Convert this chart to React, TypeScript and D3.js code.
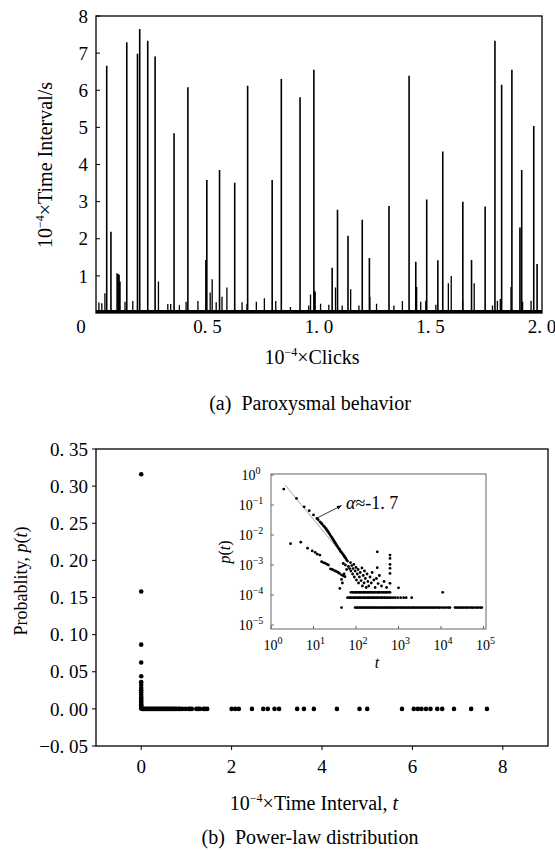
import React from "react";
import * as d3 from "d3";

// ---------- (a) Paroxysmal behavior ----------
const spikeX = [0.048, 0.067, 0.138, 0.186, 0.196, 0.232, 0.265, 0.35, 0.412, 0.497, 0.554, 0.622, 0.68, 0.79, 0.831, 0.915, 0.977, 1.059, 1.083, 1.13, 1.194, 1.226, 1.314, 1.404, 1.434, 1.483, 1.533, 1.555, 1.645, 1.684, 1.745, 1.789, 1.819, 1.865, 1.901, 1.909, 1.963, 1.978];
const spikeH = [6.66, 2.19, 7.29, 6.98, 7.65, 7.33, 6.91, 4.84, 6.08, 3.58, 3.85, 3.51, 6.12, 3.58, 6.3, 5.81, 6.55, 1.22, 2.78, 2.08, 2.51, 1.48, 2.88, 6.39, 1.38, 3.06, 1.42, 4.35, 3.0, 1.43, 2.87, 7.33, 6.15, 6.55, 2.3, 3.85, 5.04, 1.32];
const minorX = [0.013, 0.026, 0.04, 0.094, 0.1, 0.104, 0.108, 0.13, 0.165, 0.28, 0.322, 0.335, 0.374, 0.404, 0.457, 0.492, 0.512, 0.521, 0.539, 0.565, 0.587, 0.655, 0.677, 0.719, 0.755, 0.806, 0.872, 0.954, 0.962, 0.98, 0.983, 1.007, 1.044, 1.074, 1.104, 1.142, 1.179, 1.228, 1.258, 1.336, 1.374, 1.438, 1.456, 1.479, 1.524, 1.58, 1.593, 1.644, 1.696, 1.778, 1.8, 1.813, 1.861, 1.913, 1.951];
const minorH = [0.28, 0.26, 0.53, 1.07, 1.05, 1.03, 0.85, 0.3, 0.32, 0.85, 0.24, 0.24, 0.21, 0.3, 0.32, 1.43, 0.55, 0.91, 0.29, 0.44, 0.69, 0.29, 0.24, 0.3, 0.4, 0.32, 0.16, 0.2, 0.5, 0.6, 0.57, 0.25, 0.22, 0.69, 0.2, 0.64, 0.2, 0.44, 0.25, 0.2, 0.32, 0.7, 0.3, 0.33, 0.22, 0.8, 1.0, 0.35, 0.8, 0.2, 0.33, 0.38, 0.7, 0.3, 0.33];
const topYTicks = [1, 2, 3, 4, 5, 6, 7, 8];
const topXTicks = [0, 0.5, 1, 1.5, 2];
const topXTickLabels = ["0", "0. 5", "1. 0", "1. 5", "2. 0"];

// ---------- (b) Power-law distribution ----------
const zeroColumnP = [0.316, 0.158, 0.0865, 0.0625, 0.044, 0.036, 0.032, 0.028, 0.025, 0.022, 0.019, 0.016, 0.014, 0.012, 0.01, 0.008, 0.006, 0.0045, 0.003, 0.0015, 0.0005];
const zeroRowT = [0.02, 0.05, 0.08, 0.11, 0.14, 0.17, 0.2, 0.23, 0.26, 0.29, 0.32, 0.35, 0.38, 0.41, 0.44, 0.47, 0.5, 0.53, 0.56, 0.59, 0.62, 0.65, 0.69, 0.72, 0.75, 0.79, 0.83, 0.86, 0.91, 0.98, 1.05, 1.08, 1.12, 1.22, 1.26, 1.3, 1.38, 1.42, 1.46, 2.0, 2.08, 2.16, 2.45, 2.7, 2.8, 2.95, 3.05, 3.45, 3.6, 3.82, 4.33, 4.83, 5.0, 5.77, 6.03, 6.12, 6.2, 6.3, 6.4, 6.55, 6.66, 6.92, 7.3, 7.65];
const bottomYTicks = [-0.05, 0, 0.05, 0.1, 0.15, 0.2, 0.25, 0.3, 0.35];
const bottomYTickLabels = ["\u22120. 05", "0. 00", "0. 05", "0. 10", "0. 15", "0. 20", "0. 25", "0. 30", "0. 35"];
const bottomXTicks = [0, 2, 4, 6, 8];

// inset (log10 values)
const insetLogT = [
  0.30, 0.60, 0.78, 0.90, 1.00, 1.08, 1.11, 1.15, 1.18, 1.20, 1.23, 1.26, 1.28, 1.30, 1.32, 1.34, 1.36, 1.38, 1.40, 1.42, 1.44, 1.46, 1.48, 1.50, 1.52, 1.54, 1.56, 1.58, 1.60, 1.62, 1.64, 1.66, 1.68, 1.70, 1.72, 1.74, 1.76, 1.78, 1.80,
  1.82, 1.85, 1.87, 1.88, 1.90, 1.92, 1.93, 1.95, 1.96, 1.98, 2.00, 2.01, 2.03, 2.05, 2.06, 2.08, 2.10, 2.12, 2.14, 2.15, 2.17, 2.19, 2.20, 2.22, 2.24, 2.26, 2.28, 2.30, 2.33, 2.36, 2.38, 2.42, 2.45, 2.48, 2.52, 2.55, 2.60, 2.66, 2.72, 1.70, 1.75, 1.72, 1.78, 1.68, 1.62, 1.66,
  0.46, 0.70, 0.86, 0.97, 1.04, 1.09, 1.15, 1.19, 1.23, 1.27, 1.31, 1.35, 1.40, 1.44, 1.47, 1.51, 1.55, 1.58, 1.61, 1.66, 1.70, 1.74,
  2.50, 2.50, 2.80, 2.80, 2.80, 2.80, 2.80, 2.80, 3.00, 3.31, 4.04, 1.66
];
const insetLogP = [
  -0.47, -0.78, -1.06, -1.19, -1.33, -1.45, -1.49, -1.56, -1.60, -1.63, -1.69, -1.73, -1.77, -1.80, -1.85, -1.88, -1.93, -1.97, -2.02, -2.06, -2.10, -2.15, -2.19, -2.24, -2.28, -2.33, -2.37, -2.42, -2.46, -2.50, -2.55, -2.58, -2.62, -2.66, -2.70, -2.74, -2.78, -2.83, -2.87,
  -3.05, -3.12, -2.92, -3.20, -3.02, -3.30, -3.12, -2.98, -3.40, -3.20, -3.08, -3.50, -3.30, -3.15, -3.60, -3.40, -3.25, -3.52, -3.10, -3.70, -3.35, -3.60, -3.20, -3.45, -3.75, -3.30, -3.55, -3.70, -3.40, -3.60, -3.25, -3.50, -3.75, -3.45, -3.62, -3.35, -3.70, -3.55, -3.75, -2.95, -3.00, -3.30, -3.15, -3.60, -3.78, -3.48,
  -2.29, -2.24, -2.44, -2.53, -2.58, -2.64, -2.67, -2.89, -2.92, -2.94, -2.97, -3.00, -3.13, -3.15, -3.17, -3.20, -3.22, -3.25, -3.28, -3.33, -3.36, -3.39,
  -2.56, -3.09, -2.67, -2.78, -2.98, -3.11, -3.28, -3.61, -3.76, -4.09, -3.91, -4.42
];
const bandLogP = [-3.91, -4.09, -4.42];
const bandALogT = [1.88, 1.92, 1.95, 1.99, 2.01, 2.05, 2.08, 2.1, 2.14, 2.17, 2.2, 2.23, 2.27, 2.29, 2.33, 2.36, 2.4, 2.42, 2.46, 2.5, 2.53, 2.55, 2.59, 2.63, 2.66, 2.7, 2.73, 2.77, 2.8];
const bandBLogT = [1.8, 1.84, 1.87, 1.9, 1.94, 1.97, 2.0, 2.04, 2.07, 2.1, 2.13, 2.17, 2.2, 2.23, 2.27, 2.3, 2.33, 2.37, 2.4, 2.43, 2.47, 2.5, 2.53, 2.57, 2.6, 2.63, 2.67, 2.7, 2.74, 2.78, 2.82, 2.87, 2.92, 2.98, 3.05, 3.12, 3.18];
const bandCLogT = [1.98, 2.02, 2.05, 2.09, 2.12, 2.16, 2.19, 2.23, 2.26, 2.3, 2.33, 2.37, 2.4, 2.44, 2.47, 2.51, 2.54, 2.58, 2.61, 2.65, 2.68, 2.72, 2.75, 2.79, 2.82, 2.86, 2.89, 2.93, 2.96, 3.0, 3.04, 3.07, 3.11, 3.14, 3.18, 3.22, 3.25, 3.29, 3.33, 3.36, 3.4, 3.44, 3.48, 3.52, 3.56, 3.6, 3.64, 3.68, 3.72, 3.76, 3.8, 3.84, 3.88, 3.93, 3.97, 4.02, 4.07, 4.12, 4.17, 4.21, 4.33, 4.37, 4.41, 4.45, 4.49, 4.53, 4.57, 4.61, 4.65, 4.7, 4.74, 4.78, 4.83, 4.87, 4.92, 4.96];
const fitLogT = [0.33, 1.74];
const fitLogP = [-0.33, -2.75];
const insetXExp = [0, 1, 2, 3, 4, 5];
const insetYExp = [0, -1, -2, -3, -4, -5];

const FONT = "Liberation Serif, Times New Roman, serif";
const fs = { fontFamily: FONT };

export default function App() {
  const tx = d3.scaleLinear().domain([0, 2]).range([96, 542]);
  const ty = d3.scaleLinear().domain([0, 8]).range([313, 16]);
  const bx = d3.scaleLinear().domain([-1, 9]).range([96, 548]);
  const by = d3.scaleLinear().domain([-0.05, 0.35]).range([746, 449]);
  const ix = d3.scaleLog().domain([1, 1e5]).range([271, 483.5]);
  const iy = d3.scaleLog().domain([1e-5, 1]).range([625, 475]);

  const spikePath = d3.path();
  spikeX.forEach((x, i) => {
    spikePath.moveTo(tx(x), ty(0));
    spikePath.lineTo(tx(x), ty(spikeH[i]));
  });
  const minorPath = d3.path();
  minorX.forEach((x, i) => {
    minorPath.moveTo(tx(x), ty(0));
    minorPath.lineTo(tx(x), ty(minorH[i]));
  });

  const fitLine = d3.line<number>().x((d) => ix(10 ** d)).y((_, i) => iy(10 ** fitLogP[i]))(fitLogT) || "";

  const sup = (base: string, exp: string, size: number, ssize: number) => (
    <>
      <tspan fontSize={size}>{base}</tspan>
      <tspan fontSize={ssize} dy={-size * 0.42}>{exp}</tspan>
    </>
  );

  const arrowStart = [ix(10 ** 1.09), iy(10 ** -1.43)];
  const arrowEnd = [ix(10 ** 1.66), iy(10 ** -1.02)];
  const ang = Math.atan2(arrowEnd[1] - arrowStart[1], arrowEnd[0] - arrowStart[0]);
  const ah = 5;
  const head = [
    [arrowEnd[0], arrowEnd[1]],
    [arrowEnd[0] - ah * Math.cos(ang - 0.4), arrowEnd[1] - ah * Math.sin(ang - 0.4)],
    [arrowEnd[0] - ah * Math.cos(ang + 0.4), arrowEnd[1] - ah * Math.sin(ang + 0.4)],
  ];

  return (
    <svg width={555} height={850} style={{ position: "absolute", left: 0, top: 0, background: "#fff", fontFamily: FONT }}>
      <rect x={0} y={0} width={555} height={850} fill="#fff" />
      {/* ===== top chart ===== */}
      <rect x={tx(0)} y={ty(8)} width={tx(2) - tx(0)} height={ty(0) - ty(8)} fill="none" stroke="#000" strokeWidth={1.3} />
      {topYTicks.map((t) => (
        <g key={"ty" + t}>
          <line x1={tx(0)} x2={tx(0) + 4} y1={ty(t)} y2={ty(t)} stroke="#000" strokeWidth={1} />
          <text style={fs} x={88} y={ty(t)} dy="0.35em" textAnchor="end" fontSize={19}>{t}</text>
        </g>
      ))}
      {topXTicks.map((t, i) => (
        <text style={fs} key={"tx" + t} x={tx(t) + (i === 0 ? -15 : 0)} y={333} textAnchor="middle" fontSize={19}>{topXTickLabels[i]}</text>
      ))}
      <path d={minorPath.toString()} stroke="#000" strokeWidth={1.3} fill="none" />
      <path d={spikePath.toString()} stroke="#000" strokeWidth={1.6} fill="none" />
      <line x1={tx(0)} x2={tx(2)} y1={ty(0.04)} y2={ty(0.04)} stroke="#000" strokeWidth={3} />
      <text style={fs} transform={`translate(52,165) rotate(-90)`} textAnchor="middle" fontSize={20}>
        {sup("10", "\u22124", 20, 12)}
        <tspan dy={20 * 0.42}>{"\u00d7Time Interval/s"}</tspan>
      </text>
      <text style={fs} x={312} y={364} textAnchor="middle" fontSize={20}>
        {sup("10", "\u22124", 20, 12)}
        <tspan dy={20 * 0.42}>{"\u00d7Clicks"}</tspan>
      </text>
      <text style={fs} x={310} y={410} textAnchor="middle" fontSize={20} xmlSpace="preserve">(a)  Paroxysmal behavior</text>

      {/* ===== bottom chart ===== */}
      <rect x={bx(-1)} y={by(0.35)} width={bx(9) - bx(-1)} height={by(-0.05) - by(0.35)} fill="none" stroke="#000" strokeWidth={1.3} />
      {bottomYTicks.map((t, i) => (
        <g key={"by" + i}>
          <line x1={bx(-1) - 4} x2={bx(-1)} y1={by(t)} y2={by(t)} stroke="#000" strokeWidth={1} />
          <text style={fs} x={88} y={by(t)} dy="0.35em" textAnchor="end" fontSize={19}>{bottomYTickLabels[i]}</text>
        </g>
      ))}
      {bottomXTicks.map((t) => (
        <g key={"bx" + t}>
          <line x1={bx(t)} x2={bx(t)} y1={by(-0.05)} y2={by(-0.05) + 4} stroke="#000" strokeWidth={1} />
          <text style={fs} x={bx(t)} y={773} textAnchor="middle" fontSize={19}>{t}</text>
        </g>
      ))}
      {zeroColumnP.map((p, i) => (
        <circle key={"zc" + i} cx={bx(0)} cy={by(p)} r={2.3} fill="#000" />
      ))}
      {zeroRowT.map((t, i) => (
        <circle key={"zr" + i} cx={bx(t)} cy={by(0)} r={2.3} fill="#000" />
      ))}
      <text style={fs} transform={`translate(27,581) rotate(-90)`} textAnchor="middle" fontSize={18}>
        Probablity, <tspan fontStyle="italic">p</tspan>(<tspan fontStyle="italic">t</tspan>)
      </text>
      <text style={fs} x={314} y={810} textAnchor="middle" fontSize={20}>
        {sup("10", "\u22124", 20, 12)}
        <tspan dy={20 * 0.42}>{"\u00d7Time Interval, "}</tspan>
        <tspan fontStyle="italic">t</tspan>
      </text>
      <text style={fs} x={310} y={844} textAnchor="middle" fontSize={20} xmlSpace="preserve">(b)  Power-law distribution</text>

      {/* ===== inset ===== */}
      <rect x={271} y={474} width={215} height={155} fill="#fff" stroke="#666" strokeWidth={1} />
      {insetXExp.map((e) => (
        <g key={"ix" + e}>
          <line x1={ix(10 ** e)} x2={ix(10 ** e)} y1={629} y2={626} stroke="#666" />
          <text style={fs} x={ix(10 ** e) + 2} y={650} textAnchor="middle" fontSize={14}>
            {sup("10", String(e), 14, 10)}
          </text>
        </g>
      ))}
      {insetYExp.map((e) => (
        <g key={"iy" + e}>
          <line x1={271} x2={274} y1={iy(10 ** e)} y2={iy(10 ** e)} stroke="#666" />
          <text style={fs} x={251} y={iy(10 ** e) + 5} textAnchor="middle" fontSize={14}>
            {sup("10", e === 0 ? "0" : "\u2212" + Math.abs(e), 14, 10)}
          </text>
        </g>
      ))}
      <text style={fs} transform={`translate(230,552) rotate(-90)`} textAnchor="middle" fontSize={16} fontStyle="italic">
        p<tspan fontStyle="normal">(</tspan>t<tspan fontStyle="normal">)</tspan>
      </text>
      <text style={fs} x={377} y={668} textAnchor="middle" fontSize={16} fontStyle="italic">t</text>
      <path d={fitLine} stroke="#888" strokeWidth={0.8} fill="none" />
      {insetLogT.map((lt, i) => (
        <circle key={"ip" + i} cx={ix(10 ** lt)} cy={iy(10 ** insetLogP[i])} r={1.4} fill="#000" />
      ))}
      {bandALogT.map((lt, i) => (
        <circle key={"ba" + i} cx={ix(10 ** lt)} cy={iy(10 ** bandLogP[0])} r={1.4} fill="#000" />
      ))}
      {bandBLogT.map((lt, i) => (
        <circle key={"bb" + i} cx={ix(10 ** lt)} cy={iy(10 ** bandLogP[1])} r={1.4} fill="#000" />
      ))}
      {bandCLogT.map((lt, i) => (
        <circle key={"bc" + i} cx={ix(10 ** lt)} cy={iy(10 ** bandLogP[2])} r={1.4} fill="#000" />
      ))}
      <line x1={arrowStart[0]} y1={arrowStart[1]} x2={arrowEnd[0]} y2={arrowEnd[1]} stroke="#000" strokeWidth={0.8} />
      <polygon points={head.map((p) => p.join(",")).join(" ")} fill="#000" />
      <text style={fs} x={346} y={509} fontSize={18}>
        <tspan fontStyle="italic">{"\u03b1"}</tspan>{"\u2248-1. 7"}
      </text>
    </svg>
  );
}
